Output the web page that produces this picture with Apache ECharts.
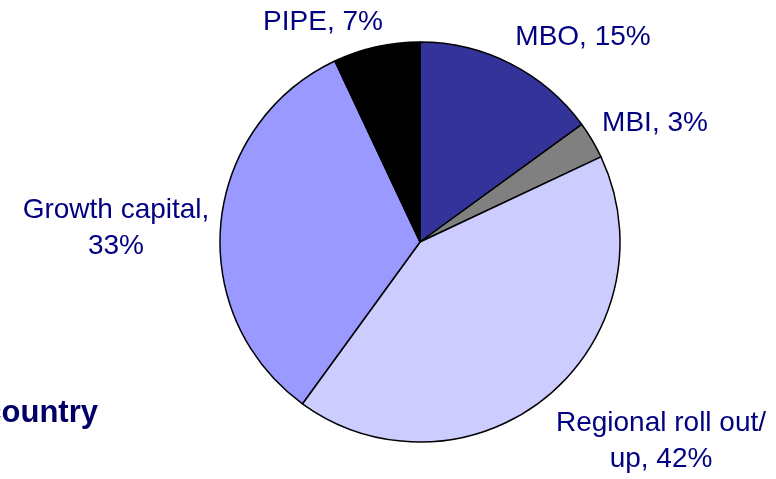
<!DOCTYPE html>
<html>
<head>
<meta charset="utf-8">
<script src="https://cdn.jsdelivr.net/npm/echarts@6/dist/echarts.min.js"></script>
<style>
    html, body { margin: 0; padding: 0; background: #fff; }
    #chart { width: 776px; height: 479px; }
</style>
</head>
<body>
<div id="chart"></div>
<script>
var categories = ['MBO', 'MBI', 'Regional roll out/\nup', 'Growth capital', 'PIPE'];
var shares = [15, 3, 42, 33, 7];
var sliceColors = ['#333399', '#808080', '#CCCCFF', '#9999FF', '#000000'];
// where the name and the percent are split
var labelSep = [' ', ' ', ' ', '\n', ' '];
// label centres, px
var labelPos = [[583, 37], [655, 123], [661, 441], [116, 228], [323, 22]];

var chart = echarts.init(document.getElementById('chart'));
var option = {
    animation: false,
    textStyle: {
        fontFamily: 'Liberation Sans, Arial, sans-serif'
    },
    graphic: [{
        type: 'text',
        x: 98,
        y: 413,
        style: {
            text: 'country',
            font: 'bold 31px "Liberation Sans", Arial, sans-serif',
            fill: '#000066',
            align: 'right',
            verticalAlign: 'middle'
        }
    }],
    series: [{
        type: 'pie',
        center: [420, 242],
        radius: 200,
        startAngle: 90,
        clockwise: true,
        avoidLabelOverlap: false,
        itemStyle: {
            borderColor: '#000',
            borderWidth: 1.5
        },
        label: {
            show: true,
            position: 'outside',
            color: '#000080',
            fontSize: 28,
            lineHeight: 36,
            align: 'center',
            formatter: function (p) {
                return p.name + ',' + labelSep[p.dataIndex] + p.value + '%';
            }
        },
        labelLine: { show: false },
        labelLayout: function (p) {
            return {
                x: labelPos[p.dataIndex][0],
                y: labelPos[p.dataIndex][1],
                align: 'center',
                verticalAlign: 'middle'
            };
        },
        emphasis: { disabled: true },
        data: categories.map(function (c, i) {
            return { name: c, value: shares[i], itemStyle: { color: sliceColors[i] } };
        })
    }]
};
chart.setOption(option);
</script>
</body>
</html>
